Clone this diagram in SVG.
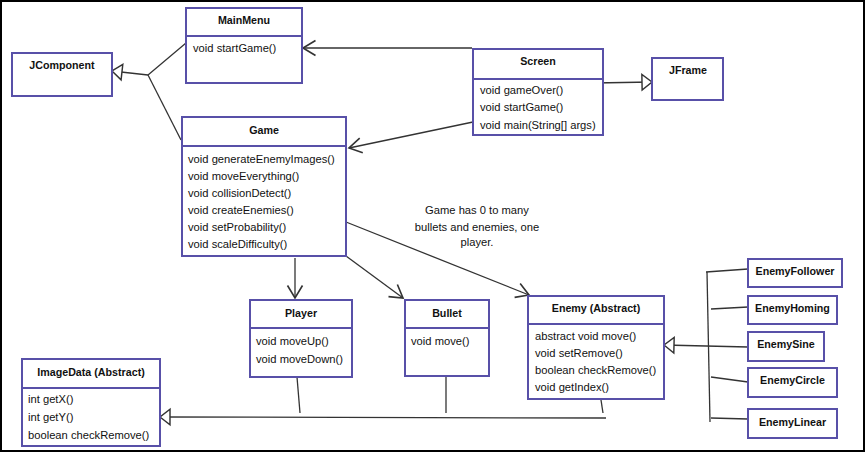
<svg xmlns="http://www.w3.org/2000/svg" width="866" height="453" viewBox="0 0 866 453">
<defs>
<style>
.box{fill:#fff;stroke:#5850a8;stroke-width:2}
.div{stroke:#5850a8;stroke-width:2}
.t{font-family:"Liberation Sans",Arial,sans-serif;font-size:10.7px;font-weight:bold;fill:#111;text-anchor:middle}
.m{font-family:"Liberation Sans",Arial,sans-serif;font-size:11.2px;fill:#111}
.note{font-family:"Liberation Sans",Arial,sans-serif;font-size:11.2px;fill:#111;text-anchor:middle}
.c{fill:none;stroke:#333;stroke-width:1.3}
</style>
<marker id="open" markerUnits="userSpaceOnUse" markerWidth="20" markerHeight="20" viewBox="-12 -8 14 16" refX="0" refY="0" orient="auto">
<path d="M-10,-6 L0,0 L-10,6" fill="none" stroke="#333" stroke-width="1.3"/>
</marker>
<marker id="tri" markerUnits="userSpaceOnUse" markerWidth="20" markerHeight="20" viewBox="-11 -9 13 18" refX="0" refY="0" orient="auto">
<path d="M0,0 L-9,-7 L-9,7 Z" fill="#fff" stroke="#333" stroke-width="1.3"/>
</marker>
</defs>
<rect x="1" y="1" width="863" height="450" fill="#fff" stroke="#000" stroke-width="2"/>

<g id="connectors">
<path class="c" d="M148,75 L112,71" marker-end="url(#tri)"/>
<path class="c" d="M148,75 L186,43"/>
<path class="c" d="M148,75 L181,140"/>
<path class="c" d="M472,48 L303,48" marker-end="url(#open)"/>
<path class="c" d="M473,122 L349,148" marker-end="url(#open)"/>
<path class="c" d="M594,83 L652,82" marker-end="url(#tri)"/>
<path class="c" d="M295,258 L295,298" marker-end="url(#open)"/>
<path class="c" d="M346,256 L403,298" marker-end="url(#open)"/>
<path class="c" d="M346,222 L529,295" marker-end="url(#open)"/>
<path class="c" d="M606,418 L160,417" marker-end="url(#tri)"/>
<path class="c" d="M297,377 L300,413"/>
<path class="c" d="M446,377 L446,413"/>
<path class="c" d="M601,400 L603,413"/>
<path class="c" d="M748,347 L664,345" marker-end="url(#tri)"/>
<path class="c" d="M707,272 L710,422"/>
<path class="c" d="M706,272 L748,269"/>
<path class="c" d="M711,309 L748,307"/>
<path class="c" d="M711,377 L748,382"/>
<path class="c" d="M711,418 L748,419"/>
</g>

<g id="MainMenu">
<rect class="box" x="186" y="8" width="116" height="75"/>
<line class="div" x1="186" y1="36" x2="302" y2="36"/>
<text class="t" x="244" y="24">MainMenu</text>
<text class="m" x="193" y="52">void startGame()</text>
</g>

<g id="JComponent">
<rect class="box" x="12" y="53" width="100" height="43"/>
<text class="t" x="62" y="69">JComponent</text>
</g>

<g id="Screen">
<rect class="box" x="473" y="49" width="130" height="86"/>
<line class="div" x1="473" y1="79" x2="603" y2="79"/>
<text class="t" x="538" y="65">Screen</text>
<text class="m" x="480" y="93.5">void gameOver()</text>
<text class="m" x="480" y="111">void startGame()</text>
<text class="m" x="480" y="128.5">void main(String[] args)</text>
</g>

<g id="JFrame">
<rect class="box" x="652" y="58" width="71" height="42"/>
<text class="t" x="688" y="74">JFrame</text>
</g>

<g id="Game">
<rect class="box" x="182" y="117" width="164" height="139"/>
<line class="div" x1="182" y1="146" x2="346" y2="146"/>
<text class="t" x="264" y="133.5">Game</text>
<text class="m" x="188" y="162.5">void generateEnemyImages()</text>
<text class="m" x="188" y="179.5">void moveEverything()</text>
<text class="m" x="188" y="196.5">void collisionDetect()</text>
<text class="m" x="188" y="213.5">void createEnemies()</text>
<text class="m" x="188" y="231">void setProbability()</text>
<text class="m" x="188" y="248">void scaleDifficulty()</text>
</g>

<g id="note">
<text class="note" x="477" y="214">Game has 0 to many</text>
<text class="note" x="477" y="231">bullets and enemies, one</text>
<text class="note" x="477" y="246">player.</text>
</g>

<g id="Player">
<rect class="box" x="250" y="300" width="102" height="77"/>
<line class="div" x1="250" y1="328" x2="352" y2="328"/>
<text class="t" x="301" y="316.5">Player</text>
<text class="m" x="256" y="345">void moveUp()</text>
<text class="m" x="256" y="362.5">void moveDown()</text>
</g>

<g id="Bullet">
<rect class="box" x="405" y="300" width="84" height="76"/>
<line class="div" x1="405" y1="328" x2="489" y2="328"/>
<text class="t" x="447" y="316.5">Bullet</text>
<text class="m" x="411" y="345">void move()</text>
</g>

<g id="Enemy">
<rect class="box" x="528" y="296" width="136" height="103"/>
<line class="div" x1="528" y1="324" x2="664" y2="324"/>
<text class="t" x="596" y="312">Enemy (Abstract)</text>
<text class="m" x="535" y="340">abstract void move()</text>
<text class="m" x="535" y="357">void setRemove()</text>
<text class="m" x="535" y="374">boolean checkRemove()</text>
<text class="m" x="535" y="391">void getIndex()</text>
</g>

<g id="ImageData">
<rect class="box" x="22" y="359" width="138" height="87"/>
<line class="div" x1="22" y1="388" x2="160" y2="388"/>
<text class="t" x="91" y="376">ImageData (Abstract)</text>
<text class="m" x="28" y="402.5">int getX()</text>
<text class="m" x="28" y="421">int getY()</text>
<text class="m" x="28" y="439">boolean checkRemove()</text>
</g>

<g id="EnemyFollower">
<rect class="box" x="748" y="259" width="94" height="28"/>
<text class="t" x="795" y="275">EnemyFollower</text>
</g>
<g id="EnemyHoming">
<rect class="box" x="748" y="296" width="89" height="28"/>
<text class="t" x="792.5" y="311.5">EnemyHoming</text>
</g>
<g id="EnemySine">
<rect class="box" x="748" y="332" width="76" height="29"/>
<text class="t" x="786" y="348">EnemySine</text>
</g>
<g id="EnemyCircle">
<rect class="box" x="748" y="368" width="89" height="29"/>
<text class="t" x="792.5" y="384">EnemyCircle</text>
</g>
<g id="EnemyLinear">
<rect class="box" x="748" y="409" width="89" height="29"/>
<text class="t" x="792.5" y="426">EnemyLinear</text>
</g>
</svg>
